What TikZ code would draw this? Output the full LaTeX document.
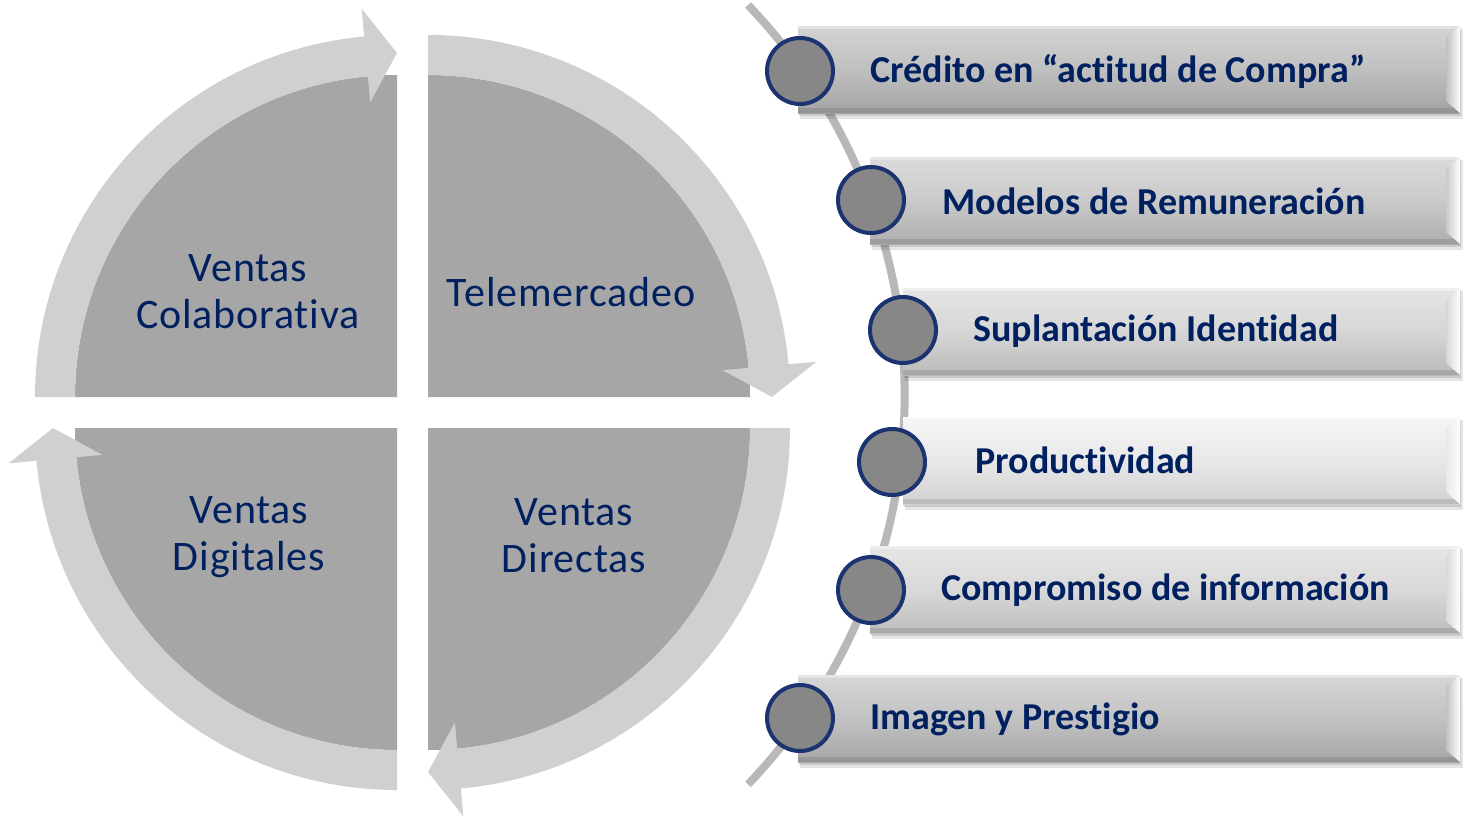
\documentclass[tikz,border=0pt]{standalone}
\usepackage{fontspec}
\setmainfont{Carlito}[Ligatures=NoCommon]
\newfontfamily\quadfont{Carlito}[LetterSpace=2,Ligatures=NoCommon]
\definecolor{navy}{HTML}{002060}
\definecolor{quad}{HTML}{A6A6A6}
\definecolor{ringc}{HTML}{D0D0D0}
\definecolor{linegray}{HTML}{B8B8B8}
\definecolor{dotfill}{HTML}{878787}
\definecolor{dotborder}{HTML}{1B3370}
\tikzset{
  quadlabel/.style={text=navy, align=center, font=\quadfont\fontsize{21pt}{23.5pt}\selectfont, inner sep=0pt},
  barlabel/.style={text=navy, anchor=west, font=\bfseries\fontsize{19pt}{22pt}\selectfont, inner sep=0pt},
  dot/.style={circle, fill=dotfill, draw=dotborder, line width=2pt, minimum size=33pt, inner sep=0pt}
}
\begin{document}
\begin{tikzpicture}[x=0.5pt,y=0.5pt,yscale=-1]
\useasboundingbox (0,0) rectangle (1473,815);
\fill[white] (0,0) rectangle (1473,815);
% quadrants
\fill[quad] (397,397) -- ++(180:322) arc[start angle=180,end angle=270,radius=322] -- cycle;
\fill[quad] (428,397) -- ++(270:322) arc[start angle=270,end angle=360,radius=322] -- cycle;
\fill[quad] (428,428) -- ++(0:322) arc[start angle=0,end angle=90,radius=322] -- cycle;
\fill[quad] (397,428) -- ++(90:322) arc[start angle=90,end angle=180,radius=322] -- cycle;
% ring arrows
\foreach \cx/\cy/\a in {397/397/180,428/397/270,428/428/0,397/428/90}{
  \pgfmathsetmacro\bb{\a+84.8}
  \pgfmathsetmacro\cc{\a+90}
  \begin{scope}[shift={(\cx,\cy)}]
  \fill[ringc] (\a:362) arc[start angle=\a,end angle=\bb,radius=362] -- (\bb:390) -- (\cc:344) -- (\bb:296) -- (\bb:322) arc[start angle=\bb,end angle=\a,radius=322] -- cycle;
  \end{scope}
}
\node[quadlabel] (q1) at (248,292) {Ventas\\Colaborativa};
\node[quadlabel] (q2) at (571,292) {Telemercadeo};
\node[quadlabel] (q3) at (249,537) {Ventas\\Digitales};
\node[quadlabel] (q4) at (574,536) {Ventas\\Directas};
% curve
\coordinate (ctop) at (748,5);
\draw[linegray, line width=4pt] (ctop) arc[start angle=-43.8,end angle=43.8,radius=563] coordinate (cbot);
% bars
\foreach \L/\T/\B/\t/\m/\b in {798/26/113/83/75/64, 870/157/244/86/79/68, 903/288/375/90/84/73, 903/417/504/96/91/82, 870/546/633/90/85/74, 798/675/762/84/76/65}{
  \fill[black, opacity=0.10] (\L+2,\T+3) rectangle (1463,\B+6);
  \fill[black, opacity=0.12] (\L+1,\T+2) rectangle (1461,\B+3);
  \shade[top color=white!\t!black, bottom color=white!\b!black, middle color=white!\m!black] (\L,\T) rectangle (1460,\B);
  \fill[white, opacity=0.35] (\L,\T) rectangle (1460,\T+3);
  \fill[black, opacity=0.10] (\L,\B-5) rectangle (1460,\B);
  \shade[left color=white!\m!black, right color=white] (1446,\T+12) -- (1460,\T) -- (1460,\B) -- (1446,\B-12) -- cycle;
}
% dots
\node[dot] (d1) at (800,71) {};
\node[dot] (d2) at (871,200) {};
\node[dot] (d3) at (903,330) {};
\node[dot] (d4) at (892,462) {};
\node[dot] (d5) at (871,590) {};
\node[dot] (d6) at (800,718) {};
% bar labels
\node[barlabel] (t1) at (870,71) {Crédito en “actitud de Compra”};
\node[barlabel] (t2) at (942,201) {Modelos de Remuneración};
\node[barlabel] (t3) at (973,331) {Suplantación Identidad};
\node[barlabel] (t4) at (975,460) {Productividad};
\node[barlabel] (t5) at (941,590) {Compromiso de información};
\node[barlabel] (t6) at (870,719) {Imagen y Prestigio};
\end{tikzpicture}
\end{document}
